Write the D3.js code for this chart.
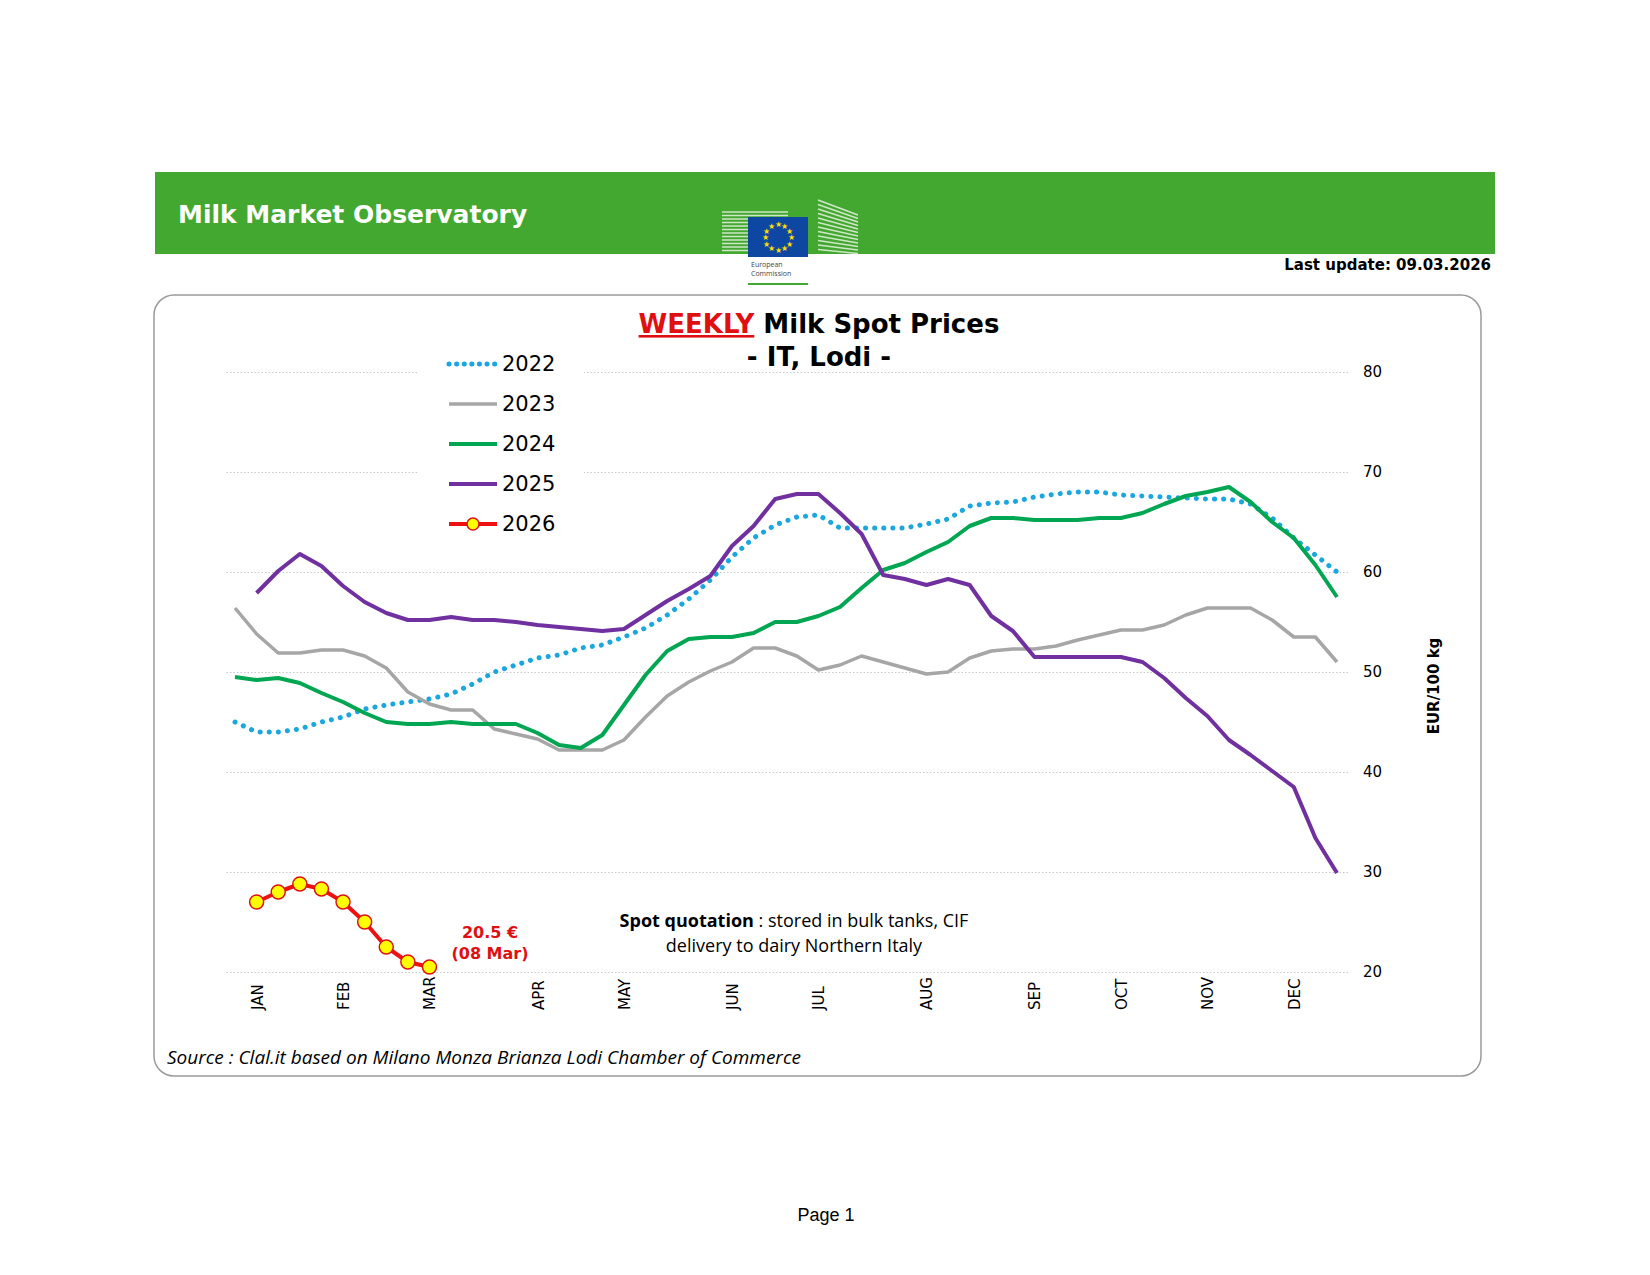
<!DOCTYPE html>
<html>
<head>
<meta charset="utf-8">
<script src="https://cdn.jsdelivr.net/npm/d3@7"></script>
<style>
  body { margin: 0; background: #fff; }
  svg { display: block; }
</style>
</head>
<body>
<div id="chart"></div>
<script>
// weekly values, EUR/100 kg, week index 0..51
const y2022 = [45, 44, 44, 44.3, 45, 45.5, 46.3, 46.7, 47, 47.3, 47.8, 48.8, 50, 50.7, 51.4, 51.7, 52.4, 52.7, 53.5, 54.4,
  55.7, 57.3, 59.2, 61.5, 63.4, 64.7, 65.5, 65.7, 64.4, 64.4, 64.4, 64.4, 64.8, 65.3, 66.6, 66.9, 67, 67.5, 67.8, 68,
  68, 67.7, 67.6, 67.5, 67.4, 67.3, 67.3, 66.8, 65.4, 63.4, 61.7, 60];
const y2023 = [56.4, 53.8, 51.9, 51.9, 52.2, 52.2, 51.6, 50.4, 48, 46.8, 46.2, 46.2, 44.3, 43.8, 43.3, 42.2, 42.2, 42.2, 43.2, 45.5,
  47.6, 49, 50.1, 51, 52.4, 52.4, 51.6, 50.2, 50.7, 51.6, 51, 50.4, 49.8, 50, 51.4, 52.1, 52.3, 52.3, 52.6, 53.2,
  53.7, 54.2, 54.2, 54.7, 55.7, 56.4, 56.4, 56.4, 55.2, 53.5, 53.5, 51];
const y2024 = [49.5, 49.2, 49.4, 48.9, 47.9, 47, 45.9, 45, 44.8, 44.8, 45, 44.8, 44.8, 44.8, 43.9, 42.7, 42.4, 43.7, 46.7, 49.7,
  52.1, 53.3, 53.5, 53.5, 53.9, 55, 55, 55.6, 56.5, 58.4, 60.2, 60.9, 62, 63, 64.6, 65.4, 65.4, 65.2, 65.2, 65.2,
  65.4, 65.4, 65.9, 66.8, 67.6, 68, 68.5, 67, 65, 63.4, 60.7, 57.5];
const y2025 = [null, 57.9, 60.1, 61.8, 60.6, 58.6, 57, 55.9, 55.2, 55.2, 55.5, 55.2, 55.2, 55, 54.7, 54.5, 54.3, 54.1, 54.3, 55.7,
  57.1, 58.3, 59.6, 62.6, 64.6, 67.3, 67.8, 67.8, 65.9, 63.8, 59.7, 59.3, 58.7, 59.3, 58.7, 55.6, 54.1, 51.5, 51.5, 51.5,
  51.5, 51.5, 51, 49.4, 47.4, 45.6, 43.2, 41.7, 40.1, 38.5, 33.4, 29.9];
const y2026 = [null, 27, 28, 28.8, 28.3, 27, 25, 22.5, 21, 20.5];

const months = ["JAN", "FEB", "MAR", "APR", "MAY", "JUN", "JUL", "AUG", "SEP", "OCT", "NOV", "DEC"];
const monthWeeks = [1, 5, 9, 14, 18, 23, 27, 32, 37, 41, 45, 49];
const yTicks = [20, 30, 40, 50, 60, 70, 80];

const series = [
  { name: "2022", values: y2022, color: "#1aa7e0", dash: "0.1 9", width: 5 },
  { name: "2023", values: y2023, color: "#a6a6a6", dash: null, width: 3.5 },
  { name: "2024", values: y2024, color: "#00a651", dash: null, width: 4 },
  { name: "2025", values: y2025, color: "#7030a0", dash: null, width: 4 },
  { name: "2026", values: y2026, color: "#ee1111", dash: null, width: 4, dots: true }
];

const W = 1650, H = 1275;
const svg = d3.select("#chart").append("svg").attr("width", W).attr("height", H);

// header band
svg.append("rect").attr("x", 155).attr("y", 172).attr("width", 1340).attr("height", 82).attr("fill", "#43a82f");
svg.append("text").attr("x", 178).attr("y", 223)
  .style("font-family", "DejaVu Sans, Verdana").style("font-weight", "bold").style("font-size", "25px")
  .style("fill", "#fff").text("Milk Market Observatory");
svg.append("text").attr("x", 1491).attr("y", 270).attr("text-anchor", "end")
  .style("font-family", "DejaVu Sans, Verdana").style("font-weight", "bold").style("font-size", "15px")
  .text("Last update: 09.03.2026");

// logo
const logo = svg.append("g");
for (let k = 0; k < 12; k++) {
  logo.append("line").attr("x1", 722).attr("x2", 788).attr("y1", 212 + k * 3.5).attr("y2", 212 + k * 3.5)
    .attr("stroke", "#cfe6c8").attr("stroke-width", 1.6);
  logo.append("line").attr("x1", 818).attr("x2", 858).attr("y1", 200 + k * 4.5).attr("y2", 215 + k * 3.5)
    .attr("stroke", "#cfe6c8").attr("stroke-width", 1.6);
}
logo.append("rect").attr("x", 748).attr("y", 217).attr("width", 60).attr("height", 40).attr("fill", "#0e47a1");
d3.range(12).forEach(k => {
  const a = k / 12 * 2 * Math.PI;
  logo.append("text").attr("x", 778 + 13 * Math.sin(a)).attr("y", 237 - 13 * Math.cos(a) + 3)
    .attr("text-anchor", "middle").style("font-size", "8px").style("fill", "#ffdd00").text("★");
});
logo.append("rect").attr("x", 748).attr("y", 257).attr("width", 60).attr("height", 28).attr("fill", "#fff");
logo.append("text").attr("x", 751).attr("y", 267).style("font-family", "Open Sans").style("font-size", "7px").style("fill", "#444").text("European");
logo.append("text").attr("x", 751).attr("y", 276).style("font-family", "Open Sans").style("font-size", "7px").style("fill", "#444").text("Commission");
logo.append("line").attr("x1", 748).attr("x2", 808).attr("y1", 284).attr("y2", 284).attr("stroke", "#43a82f").attr("stroke-width", 2);

// chart frame
svg.append("rect").attr("x", 154).attr("y", 295).attr("width", 1327).attr("height", 781).attr("rx", 20)
  .attr("fill", "#fff").attr("stroke", "#9a9a9a").attr("stroke-width", 1.5);

const x = d3.scaleLinear().domain([0, 51]).range([235, 1337]);
const y = d3.scaleLinear().domain([20, 80]).range([972, 372]);

// gridlines + right axis
const yAxis = svg.append("g").attr("transform", "translate(1348,0)")
  .call(d3.axisRight(y).tickValues(yTicks).tickSize(-(1348 - 225)).tickPadding(15));
yAxis.select(".domain").remove();
yAxis.selectAll("line").attr("stroke", "#c8c8c8").attr("stroke-dasharray", "1.5 2");
yAxis.selectAll("text").style("font-family", "DejaVu Sans, Verdana").style("font-size", "15px").attr("fill", "#000");

svg.append("text").attr("transform", "translate(1439,686) rotate(-90)").attr("text-anchor", "middle")
  .style("font-family", "DejaVu Sans, Verdana").style("font-weight", "bold").style("font-size", "15px")
  .text("EUR/100 kg");

// month labels
svg.append("g").selectAll("text").data(months).join("text")
  .attr("transform", (d, i) => `translate(${x(monthWeeks[i]) + 6},1010) rotate(-90)`)
  .style("font-family", "DejaVu Sans, Verdana").style("font-size", "15px").text(d => d);

// lines
const line = d3.line().defined(d => d != null).x((d, i) => x(i)).y(d => y(d));
series.forEach(s => {
  svg.append("path").datum(s.values).attr("d", line).attr("fill", "none")
    .attr("stroke", s.color).attr("stroke-width", s.width)
    .attr("stroke-linecap", s.dash ? "round" : "butt").attr("stroke-linejoin", "round")
    .attr("stroke-dasharray", s.dash);
  if (s.dots) {
    svg.append("g").selectAll("circle").data(s.values.map((v, i) => [i, v]).filter(d => d[1] != null)).join("circle")
      .attr("cx", d => x(d[0])).attr("cy", d => y(d[1])).attr("r", 7)
      .attr("fill", "#ffff00").attr("stroke", "#e01010").attr("stroke-width", 1.5);
  }
});

// legend
svg.append("rect").attr("x", 418).attr("y", 345).attr("width", 166).attr("height", 195).attr("fill", "#fff");
series.forEach((s, k) => {
  const ly = 364 + k * 40;
  svg.append("line").attr("x1", 449).attr("x2", 497).attr("y1", ly).attr("y2", ly)
    .attr("stroke", s.color).attr("stroke-width", s.width).attr("stroke-linecap", s.dash ? "round" : "butt")
    .attr("stroke-dasharray", s.dash ? "0.1 7.5" : null);
  if (s.dots) svg.append("circle").attr("cx", 473).attr("cy", ly).attr("r", 6)
    .attr("fill", "#ffff00").attr("stroke", "#e01010").attr("stroke-width", 1.5);
  svg.append("text").attr("x", 502).attr("y", ly + 7).style("font-family", "DejaVu Sans, Verdana")
    .style("font-size", "21px").text(s.name);
});

// title
const title = svg.append("text").attr("x", 819).attr("y", 333).attr("text-anchor", "middle")
  .style("font-family", "DejaVu Sans, Verdana").style("font-weight", "bold").style("font-size", "26px");
title.append("tspan").style("fill", "#e01010").style("text-decoration", "underline").text("WEEKLY");
title.append("tspan").text(" Milk Spot Prices");
svg.append("text").attr("x", 819).attr("y", 366).attr("text-anchor", "middle")
  .style("font-family", "DejaVu Sans, Verdana").style("font-weight", "bold").style("font-size", "26px")
  .text("- IT, Lodi -");

// annotations
const note = svg.append("text").attr("text-anchor", "middle")
  .style("font-family", "Open Sans, Noto Sans").style("font-size", "18px");
const n1 = note.append("tspan").attr("x", 794).attr("y", 927);
n1.append("tspan").style("font-weight", "bold").text("Spot quotation");
n1.append("tspan").text(" :  stored in bulk tanks, CIF");
note.append("tspan").attr("x", 794).attr("y", 952).text("delivery to dairy Northern Italy");

svg.append("text").attr("x", 490).attr("y", 938).attr("text-anchor", "middle")
  .style("font-family", "DejaVu Sans, Verdana").style("font-weight", "bold").style("font-size", "16px")
  .style("fill", "#e01010").text("20.5 €");
svg.append("text").attr("x", 490).attr("y", 959).attr("text-anchor", "middle")
  .style("font-family", "DejaVu Sans, Verdana").style("font-weight", "bold").style("font-size", "16px")
  .style("fill", "#e01010").text("(08 Mar)");

svg.append("text").attr("x", 167).attr("y", 1064)
  .style("font-family", "Open Sans, Noto Sans").style("font-style", "italic").style("font-size", "19px")
  .text("Source : Clal.it based on Milano Monza Brianza Lodi Chamber of Commerce");

svg.append("text").attr("x", 826).attr("y", 1221).attr("text-anchor", "middle")
  .style("font-family", "Liberation Sans, Arial").style("font-size", "18px").text("Page 1");
</script>
</body>
</html>
